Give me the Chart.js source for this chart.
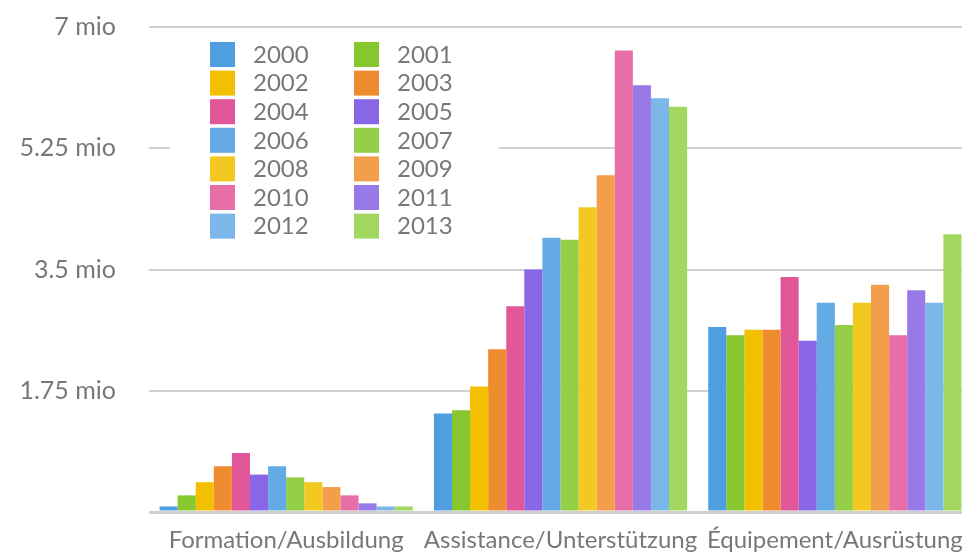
<!DOCTYPE html>
<html>
<head>
<meta charset="utf-8">
<script src="https://cdn.jsdelivr.net/npm/chart.js@4"></script>
<style>
    html, body { margin: 0; padding: 0; background: #fff; overflow: hidden; }
    #outer { width: 962px; height: 552px; overflow: hidden; }
    #wrap { position: relative; width: 975px; height: 552px; }
    canvas { display: block; }
</style>
</head>
<body>
<div id="outer"><div id="wrap"><canvas id="chart"></canvas></div></div>
<script>
// --- DATA ---
const categories = ['Formation/Ausbildung', 'Assistance/Unterstützung', 'Équipement/Ausrüstung'];
const years = ['2000', '2001', '2002', '2003', '2004', '2005', '2006', '2007', '2008', '2009', '2010', '2011', '2012', '2013'];
const formation  = [0.08, 0.24, 0.43, 0.66, 0.85, 0.54, 0.66, 0.50, 0.43, 0.36, 0.24, 0.125, 0.08, 0.08];
const assistance = [1.42, 1.47, 1.81, 2.35, 2.97, 3.50, 3.96, 3.93, 4.40, 4.86, 6.66, 6.16, 5.97, 5.85];
const equipement = [2.67, 2.55, 2.63, 2.63, 3.39, 2.47, 3.02, 2.70, 3.02, 3.28, 2.55, 3.20, 3.02, 4.01];
const yTicks = [0, 1.75, 3.5, 5.25, 7];
const COLORS = ['#4f9fe0', '#86c82e', '#f2c000', '#f08c30', '#e2579a', '#8866e6', '#64aae4',
                '#94cf47', '#f3c820', '#f39e4b', '#e86ea8', '#977ae8', '#7bb7e8', '#a3d860'];

const FONT = 'Lato, "DejaVu Sans", sans-serif';
const TEXT_COLOR = '#787878';

// --- LEGEND (two columns, drawn inside the plot on a white box) ---
const insideLegend = {
    id: 'insideLegend',
    beforeDatasetsDraw(chart) {
        const ctx = chart.ctx;
        ctx.save();
        ctx.fillStyle = '#fff';
        ctx.fillRect(170, 36, 329, 204);
        ctx.font = '24px ' + FONT;
        ctx.textBaseline = 'middle';
        chart.data.datasets.forEach((ds, i) => {
            const col = i % 2, row = Math.floor(i / 2);
            const x = 210 + col * 144;
            const y = 42 + row * 28.6;
            ctx.fillStyle = ds.backgroundColor;
            ctx.fillRect(x, y, 25, 25);
            ctx.fillStyle = TEXT_COLOR;
            ctx.fillText(ds.label, x + 43, y + 13);
        });
        ctx.restore();
    }
};

const datasets = years.map((yr, i) => ({
    label: yr,
    data: [formation[i], assistance[i], equipement[i]],
    backgroundColor: COLORS[i],
    borderWidth: 0,
    barPercentage: 1,
    categoryPercentage: 0.923
}));

new Chart(document.getElementById('chart'), {
    type: 'bar',
    data: { labels: categories, datasets },
    plugins: [insideLegend],
    options: {
        responsive: true,
        maintainAspectRatio: false,
        animation: false,
        layout: { padding: { top: 27, right: 3 } },
        plugins: { legend: { display: false }, tooltip: { enabled: false } },
        scales: {
            x: {
                afterFit: (scale) => { scale.height = 40; },
                grid: { display: false },
                border: { display: false },
                ticks: { color: TEXT_COLOR, font: { family: FONT, size: 24 }, padding: 6, maxRotation: 0, autoSkip: false }
            },
            y: {
                min: 0,
                max: 7,
                afterFit: (scale) => { scale.width = 149; },
                afterBuildTicks: (scale) => { scale.ticks = yTicks.map(v => ({ value: v })); },
                grid: {
                    color: '#d0d0d0',
                    lineWidth: (c) => c.tick && c.tick.value === 0 ? 3 : 2,
                    tickLength: 33,
                    tickColor: 'rgba(0,0,0,0)'
                },
                border: { display: false },
                ticks: {
                    color: TEXT_COLOR,
                    font: { family: FONT, size: 25 },
                    padding: 0,
                    callback: (v) => v === 0 ? '' : v + ' mio'
                }
            }
        }
    }
});
</script>
</body>
</html>
